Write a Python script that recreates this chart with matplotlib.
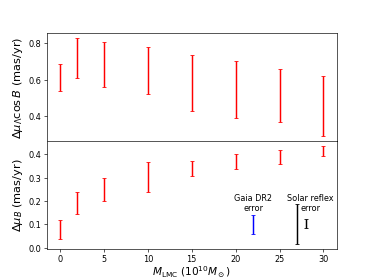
import numpy as np
import matplotlib
matplotlib.use("Agg")
from matplotlib import pyplot as plt

# LMC masses (10^10 Msun)
mlmc = [0, 2, 5, 10, 15, 20, 25, 30]

# top panel: delta mu_Lambda cos B, low / high ends of the bars
top_lo = [0.54, 0.61, 0.559, 0.52, 0.427, 0.389, 0.369, 0.292]
top_hi = [0.687, 0.827, 0.803, 0.78, 0.734, 0.701, 0.661, 0.621]

# bottom panel: delta mu_B
bot_lo = [0.037, 0.144, 0.200, 0.237, 0.308, 0.336, 0.359, 0.392]
bot_hi = [0.118, 0.237, 0.298, 0.366, 0.372, 0.399, 0.420, 0.435]

# reference error bars (x, centre, half-length)
gaia_err = (22, 0.100, 0.042)
solar_err = (27, 0.100, 0.085)
solar_err2 = (28, 0.102, 0.019)

top_yticks = [0.4, 0.6, 0.8]

def mid_err(lo, hi):
    lo = np.array(lo)
    hi = np.array(hi)
    return (lo + hi) / 2., (hi - lo) / 2.

fig, (ax1, ax2) = plt.subplots(2, 1, sharex=True, figsize=(6.4, 4.8), dpi=374/6.4)
plt.subplots_adjust(hspace=0)

y1, e1 = mid_err(top_lo, top_hi)
ax1.errorbar(mlmc, y1, yerr=e1, fmt=',', color='r', capsize=3, elinewidth=1.8)
ax1.set_ylabel(r'$\Delta\mu_\Lambda\cos B$ (mas/yr)', fontsize=14)
ax1.set_yticks(top_yticks)
ax1.tick_params(axis='x', bottom=False)

y2, e2 = mid_err(bot_lo, bot_hi)
ax2.errorbar(mlmc, y2, yerr=e2, fmt=',', color='r', capsize=3, elinewidth=1.8)
ax2.errorbar([gaia_err[0]], [gaia_err[1]], yerr=[gaia_err[2]], fmt=',', color='b', capsize=3, elinewidth=1.8)
ax2.errorbar([solar_err[0]], [solar_err[1]], yerr=[solar_err[2]], fmt=',', color='k', capsize=3, elinewidth=1.8)
ax2.errorbar([solar_err2[0]], [solar_err2[1]], yerr=[solar_err2[2]], fmt=',', color='k', capsize=3, elinewidth=1.8)
ax2.text(22, 0.15, 'Gaia DR2\nerror', ha='center', va='bottom')
ax2.text(28.5, 0.15, 'Solar reflex\nerror', ha='center', va='bottom')
ax2.set_ylabel(r'$\Delta\mu_B$ (mas/yr)', fontsize=14)
ax2.set_xlabel(r'$M_{\rm LMC}$ ($10^{10}M_\odot$)', fontsize=13, labelpad=0)

plt.savefig('out.png')
